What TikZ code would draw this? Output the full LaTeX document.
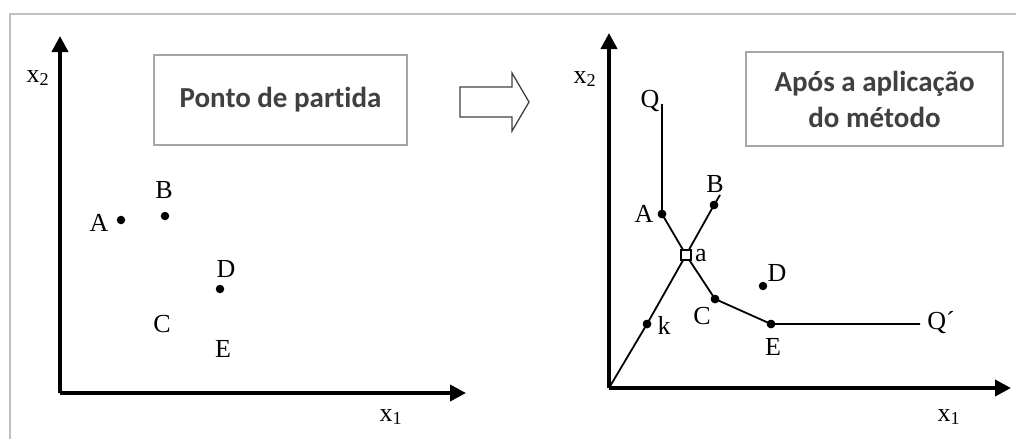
\documentclass[tikz,border=0pt]{standalone}
\usepackage{fontspec}
\setmainfont{Liberation Serif}
\newfontfamily\boxfont{Carlito}[Ligatures={TeX,NoCommon}]
\usetikzlibrary{arrows.meta}
\definecolor{framegray}{HTML}{BFBFBF}
\definecolor{boxgray}{HTML}{A6A6A6}
\definecolor{boxtext}{HTML}{404040}
\definecolor{arrowgray}{HTML}{404040}
\begin{document}
\begin{tikzpicture}[x=1pt,y=-1pt,
  axis/.style={line width=3.8pt,-{Triangle[length=16pt,width=16pt]}},
  pt/.style={circle,fill=black,inner sep=0pt,minimum size=8.5pt},
  lbl/.style={inner sep=0pt,font=\fontsize{26}{30}\selectfont},
  titlebox/.style={draw=boxgray,line width=1.8pt,inner sep=0pt,font=\boxfont\bfseries\fontsize{29}{36}\selectfont,text=boxtext,align=center},
  edge/.style={line width=1.8pt},
  sq/.style={rectangle,draw=black,fill=white,line width=1.3pt,inner sep=0pt,minimum size=10pt}]
\useasboundingbox (0,0) rectangle (1016,439);
% frame
\coordinate (fTL) at (10,14);
\coordinate (fTR) at (1016,14);
\coordinate (fBL) at (10,439);
\draw[framegray,line width=2pt] (fBL) -- (fTL) -- (fTR);

% ---------- left plot ----------
\coordinate (O1) at (60,393);
\coordinate (Y1) at (60,36);
\coordinate (X1) at (466,393);
\draw[axis] (O1) -- (Y1);
\draw[axis] (O1) -- (X1);
\node[lbl] (lx2) at (38,78) {x\textsubscript{2}};
\node[lbl] (lx1) at (391,417) {x\textsubscript{1}};
\node[titlebox,minimum width=253pt,minimum height=90pt] (lbox) at (280.5,100) {Ponto de partida};

\node[pt] (lA) at (121,220) {};
\node[pt] (lB) at (165,216) {};
\node[pt] (lD) at (220,289) {};
\node[lbl] (lAl) at (99,223) {A};
\node[lbl] (lBl) at (164,190) {B};
\node[lbl] (lDl) at (226,269) {D};
\node[lbl] (lCl) at (162,324) {C};
\node[lbl] (lEl) at (223,349) {E};

% big outline arrow
\draw[arrowgray,line width=1.3pt,line join=miter]
  (460,87) -- (512,87) -- (512,73) -- (529,102) -- (512,131) -- (512,117) -- (460,117) -- cycle;

% ---------- right plot ----------
\coordinate (O2) at (609,388);
\coordinate (Y2) at (609,33);
\coordinate (X2) at (1011,388);
\draw[axis] (O2) -- (Y2);
\draw[axis] (O2) -- (X2);
\node[lbl] (rx2) at (585,79) {x\textsubscript{2}};
\node[lbl] (rx1) at (949,417) {x\textsubscript{1}};
\node[titlebox,minimum width=257pt,minimum height=94pt] (rbox) at (874.5,99) {Após a aplicação\\do método};

\node[pt] (rA) at (662,214) {};
\node[pt] (rB) at (714,205) {};
\node[pt] (rC) at (715,299) {};
\node[pt] (rD) at (763,286) {};
\node[pt] (rE) at (771,324) {};
\node[pt] (rk) at (647,324) {};
\coordinate (rQ) at (662,104);
\coordinate (rQp) at (920,324);
\coordinate (rBend) at (720,195);

\draw[edge] (rQ) -- (rA.center);
\draw[edge] (rA.center) -- (686,255) -- (rC.center) -- (rE.center) -- (rQp);
\draw[edge] (O2) -- (rk.center) -- (686,255) -- (rB.center) -- (rBend);
\node[sq] (ra) at (686,255) {};
\node[pt] at (rA) {};
\node[pt] at (rB) {};
\node[pt] at (rC) {};
\node[pt] at (rE) {};
\node[pt] at (rk) {};

\node[lbl] (rQl) at (650,101) {Q};
\node[lbl] (rAl) at (644,214) {A};
\node[lbl] (rBl) at (715,184) {B};
\node[lbl] (ral) at (701,256) {a};
\node[lbl] (rDl) at (777,273) {D};
\node[lbl] (rCl) at (702,316) {C};
\node[lbl] (rkl) at (664,325) {k};
\node[lbl] (rEl) at (773,347) {E};
\node[lbl] (rQpl) at (941,323) {Q´};
\end{tikzpicture}
\end{document}
